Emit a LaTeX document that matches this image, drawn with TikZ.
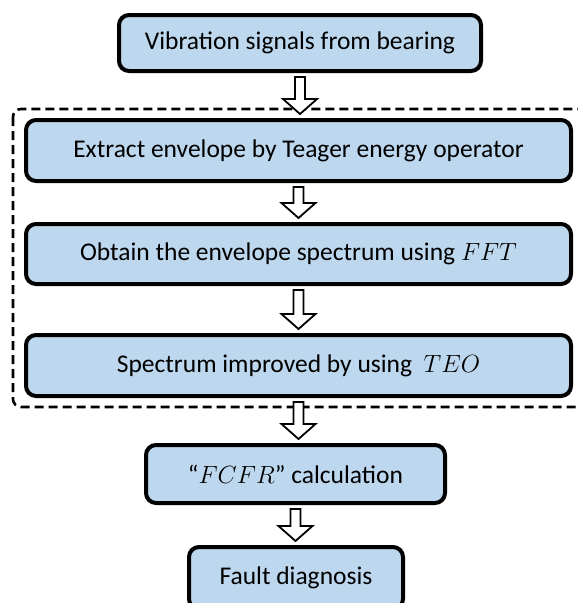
\documentclass[tikz,border=0pt]{standalone}
\usepackage{fontspec}
\setmainfont{Carlito}
\usepackage{xcolor}
\usetikzlibrary{calc}

\definecolor{stagefill}{HTML}{BDD7EE}

\tikzset{
    stage/.style={draw, line width=4pt, rounded corners=10pt, fill=stagefill,
        inner sep=0pt, align=center, font=\fontsize{25.5}{30}\selectfont},
    hollow/.style={draw, line width=1.8pt, fill=white, line join=miter},
    frame/.style={draw, line width=2.6pt, dash pattern=on 9pt off 5pt, rounded corners=8pt}
}

% hollow block arrow between two stages
\newcommand{\flowarrow}[2]{%
    \path[hollow] let \p1=($(#1.south)+(0,4)$), \p2=($(#2.north)-(0,4)$) in
        (\x1-5pt,\y1) -- (\x1-5pt,\y2+15pt) -- (\x1-17pt,\y2+15pt) -- (\x1,\y2)
        -- (\x1+17pt,\y2+15pt) -- (\x1+5pt,\y2+15pt) -- (\x1+5pt,\y1) -- cycle;
}

\begin{document}
\begin{tikzpicture}[x=1pt, y=-1pt]
    \useasboundingbox (0,0) rectangle (578,603);
    \clip (0,0) rectangle (578,603);

    % Stages
    \node[stage, minimum width=362pt, minimum height=56pt] (vib) at (300,43) {Vibration signals from bearing};
    \node[stage, minimum width=545pt, minimum height=61pt] (env) at (298.5,150.5) {Extract envelope by Teager energy operator};
    \node[stage, minimum width=545pt, minimum height=60pt] (fft) at (298.5,254) {Obtain the envelope spectrum using $FFT$};
    \node[stage, minimum width=545pt, minimum height=61pt] (teo) at (298.5,365.5) {Spectrum improved by using \ $TEO$};
    \node[stage, minimum width=299pt, minimum height=58pt] (fcfr) at (295.5,474) {“$FCFR$” calculation};
    \node[stage, minimum width=214pt, minimum height=62pt] (diag) at (296,578) {Fault diagnosis};

    % Dashed frame round the TEO stages
    \draw[frame] (13,109) rectangle (592,407);

    % Arrows
    \foreach \a/\b in {vib/env, env/fft, fft/teo, teo/fcfr, fcfr/diag} {
        \flowarrow{\a}{\b}
    }
\end{tikzpicture}
\end{document}
